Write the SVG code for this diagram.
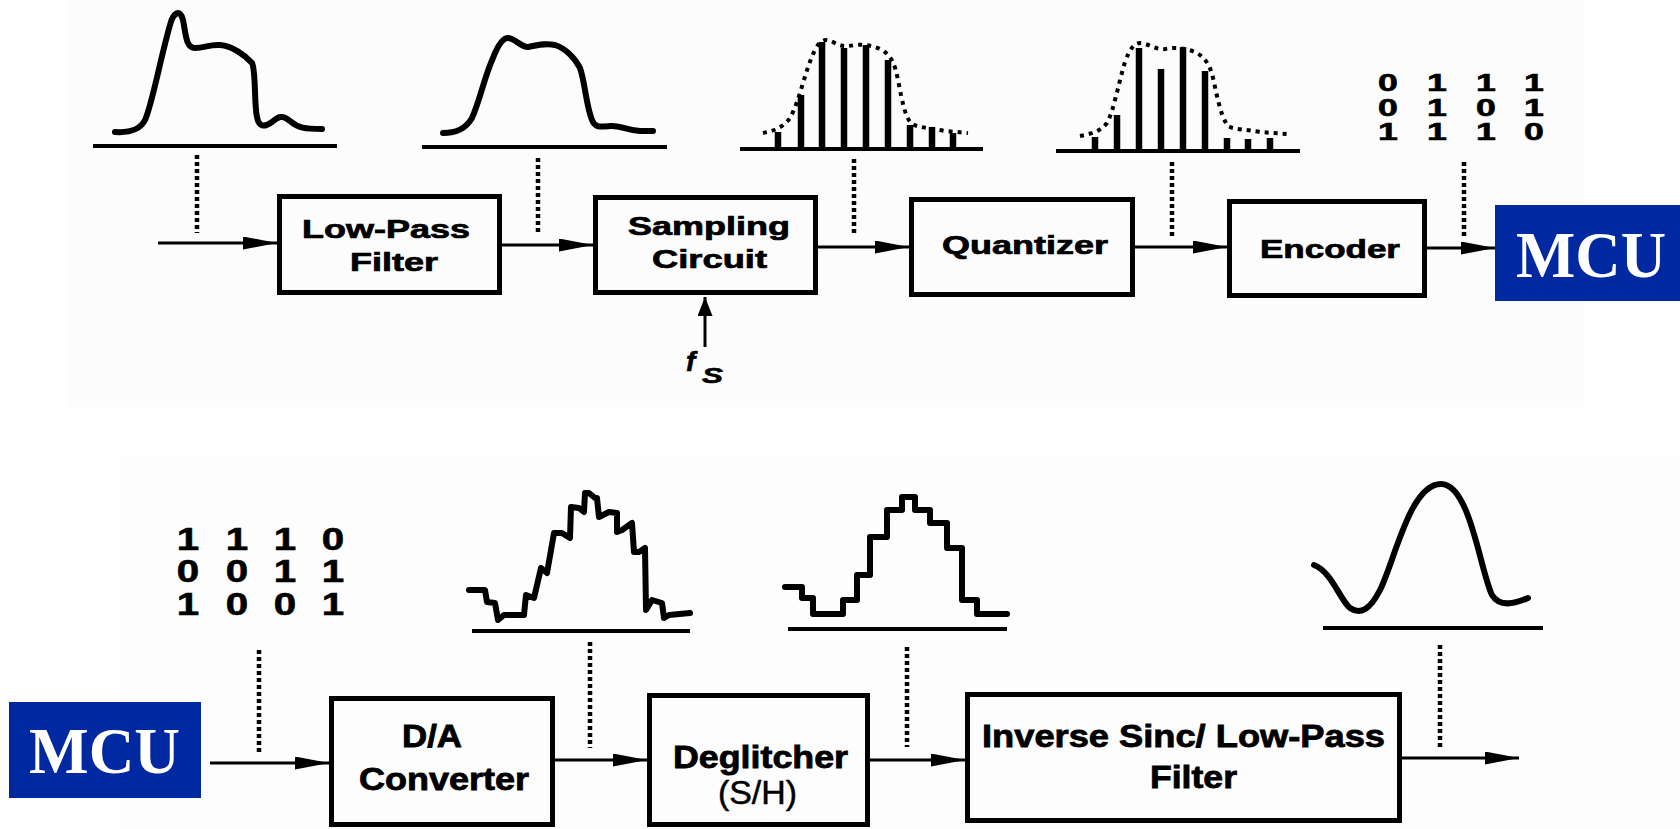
<svg xmlns="http://www.w3.org/2000/svg" width="1680" height="829" viewBox="0 0 1680 829">
<style>
.box{fill:none;stroke:#000;stroke-width:5}
.mcu{fill:#0028a0}
.mcut{font-family:"Liberation Serif","Times New Roman",serif;font-weight:bold;font-size:66px;fill:#fff}
.lt{font-family:"Liberation Sans",Arial,sans-serif;font-weight:bold;font-size:25px;fill:#000;stroke:#000;stroke-width:0.7}
.lb{font-family:"Liberation Sans",Arial,sans-serif;font-weight:bold;font-size:31px;fill:#000;stroke:#000;stroke-width:0.8}
.dig{font-family:"Liberation Sans",Arial,sans-serif;font-weight:bold;fill:#000;stroke:#000;stroke-width:0.6;text-anchor:middle}
.con{fill:none;stroke:#000;stroke-width:3}
.dot{fill:none;stroke:#000;stroke-width:4.5;stroke-dasharray:4 3}
.base{fill:none;stroke:#000;stroke-width:4}
.wave{fill:none;stroke:#000;stroke-width:6;stroke-linejoin:round;stroke-linecap:round}
.env{fill:none;stroke:#000;stroke-width:4;stroke-dasharray:4 5}
.bar{stroke:#000;stroke-width:6.5}
</style>
<defs>
<marker id="ah" viewBox="0 0 34 13" refX="34" refY="6.5" markerWidth="34" markerHeight="13" markerUnits="userSpaceOnUse" orient="auto"><path d="M0,0 L34,6.5 L0,13 Z" fill="#000"/></marker>
<marker id="ahv" viewBox="0 0 19 15" refX="19" refY="7.5" markerWidth="19" markerHeight="15" markerUnits="userSpaceOnUse" orient="auto"><path d="M0,0 L19,7.5 L0,15 Z" fill="#000"/></marker>
</defs>
<rect x="0" y="0" width="1680" height="829" fill="#fff"/>
<rect x="68" y="0" width="1516" height="407" fill="#fcfcfc"/>
<rect x="120" y="455" width="1560" height="374" fill="#fdfdfd"/>

<!-- waveforms -->
<g id="wave1">
<line class="base" x1="93" y1="146" x2="337" y2="146"/>
<path class="wave" d="M115,132 C130,133 140,130 145,120 C152,105 160,60 170,25 C173,13 180,8 183,20 C186,35 186,48 195,48 C205,48 210,44 220,45 C232,46 245,55 252,63 C256,70 254,105 257,117 C259,128 265,127 272,122 C278,117 282,114 290,121 C298,128 305,129 322,129"/>
</g>
<g id="wave2">
<line class="base" x1="422" y1="147" x2="667" y2="147"/>
<path class="wave" d="M443,133 C455,133 465,130 472,118 C480,100 485,75 493,58 C498,45 503,38 508,38 C515,38 520,47 528,47 C538,45 545,43 555,45 C565,48 575,58 580,68 C585,82 586,105 592,120 C595,128 600,127 610,126 C620,125 625,130 640,131 L653,131"/>
</g>
<g id="wave3">
<line class="base" x1="740" y1="149" x2="983" y2="149"/>
<path class="env" d="M763,133 C772,131 782,129 790,118 C800,100 805,70 815,50 C820,40 825,38 833,42 C840,46 845,47 855,45 C865,44 875,46 882,50 C892,56 895,65 898,80 C902,100 905,118 912,124 C920,128 930,128 945,131 L968,133"/>
<line class="bar" x1="778" y1="149" x2="778" y2="132"/>
<line class="bar" x1="801" y1="149" x2="801" y2="95"/>
<line class="bar" x1="822" y1="149" x2="822" y2="42"/>
<line class="bar" x1="844" y1="149" x2="844" y2="48"/>
<line class="bar" x1="866" y1="149" x2="866" y2="45"/>
<line class="bar" x1="888" y1="149" x2="888" y2="60"/>
<line class="bar" x1="910" y1="149" x2="910" y2="125"/>
<line class="bar" x1="932" y1="149" x2="932" y2="127"/>
<line class="bar" x1="953" y1="149" x2="953" y2="133"/>
</g>
<g id="wave4">
<line class="base" x1="1056" y1="151" x2="1300" y2="151"/>
<path class="env" d="M1080,136 C1090,134 1100,132 1107,123 C1114,110 1118,85 1125,62 C1130,48 1135,42 1142,43 C1150,45 1157,50 1165,49 C1175,47 1185,48 1195,52 C1205,57 1210,65 1213,78 C1217,95 1220,115 1228,126 C1235,130 1245,129 1260,132 L1287,134"/>
<line class="bar" x1="1095" y1="151" x2="1095" y2="137"/>
<line class="bar" x1="1117" y1="151" x2="1117" y2="115"/>
<line class="bar" x1="1139" y1="151" x2="1139" y2="48"/>
<line class="bar" x1="1161" y1="151" x2="1161" y2="69"/>
<line class="bar" x1="1183" y1="151" x2="1183" y2="47"/>
<line class="bar" x1="1205" y1="151" x2="1205" y2="71"/>
<line class="bar" x1="1227" y1="151" x2="1227" y2="138"/>
<line class="bar" x1="1248" y1="151" x2="1248" y2="139"/>
<line class="bar" x1="1270" y1="151" x2="1270" y2="138"/>
</g>
<g id="bits-top">
<text class="dig" font-size="23" transform="scale(1.55 1)"><tspan x="895.5 927.1 958.7 989.7" y="91">0111</tspan><tspan x="895.5 927.1 958.7 989.7" y="116">0101</tspan><tspan x="895.5 927.1 958.7 989.7" y="140">1110</tspan></text>
</g>
<g id="bits-bottom">
<text class="dig" font-size="31" transform="scale(1.3 1)"><tspan x="144.6 182.3 219.2 256.2" y="550">1110</tspan><tspan x="144.6 182.3 219.2 256.2" y="582">0011</tspan><tspan x="144.6 182.3 219.2 256.2" y="615">1001</tspan></text>
</g>
<g id="wave5">
<line class="base" x1="472" y1="631" x2="690" y2="631"/>
<path class="wave" d="M469,590 L485,590 L487,602 L495,603 L498,620 L504,615 L524,615 L526,595 L534,598 L541,568 L547,573 L554,533 L562,533 L570,538 L571,507 L579,508 L584,512 L585,493 L589,493 L595,498 L597,498 L599,517 L609,512 L617,513 L617,532 L622,530 L632,523 L634,552 L639,552 L645,548 L646,610 L652,600 L662,603 L664,618 L669,615 L690,613"/>
</g>
<g id="wave6">
<line class="base" x1="788" y1="629" x2="1007" y2="629"/>
<path class="wave" stroke-linejoin="miter" d="M785,587 L802,587 L802,598 L813,598 L813,614 L843,614 L843,600 L857,600 L857,575 L870,575 L870,537 L887,537 L887,510 L902,510 L902,497 L915,497 L915,510 L930,510 L930,523 L947,523 L947,548 L962,548 L962,600 L977,600 L977,614 L1007,614"/>
</g>
<g id="wave7">
<line class="base" x1="1323" y1="628" x2="1543" y2="628"/>
<path class="wave" d="M1314,565 C1332,572 1340,600 1350,608 C1360,615 1370,610 1380,590 C1395,560 1410,484 1441,484 C1470,484 1480,570 1492,595 C1498,605 1510,606 1528,598"/>
</g>

<!-- connectors -->
<g id="connectors">
<line class="con" x1="158" y1="243" x2="277" y2="243" marker-end="url(#ah)"/>
<line class="con" x1="502" y1="245" x2="593" y2="245" marker-end="url(#ah)"/>
<line class="con" x1="818" y1="247" x2="909" y2="247" marker-end="url(#ah)"/>
<line class="con" x1="1135" y1="247" x2="1227" y2="247" marker-end="url(#ah)"/>
<line class="con" x1="1427" y1="248" x2="1495" y2="248" marker-end="url(#ah)"/>
<line class="con" x1="705" y1="347" x2="705" y2="297" stroke-width="3.5" marker-end="url(#ahv)"/>
<line class="con" x1="210" y1="763" x2="329" y2="763" marker-end="url(#ah)"/>
<line class="con" x1="555" y1="760" x2="647" y2="760" marker-end="url(#ah)"/>
<line class="con" x1="870" y1="760" x2="965" y2="760" marker-end="url(#ah)"/>
<line class="con" x1="1402" y1="758" x2="1519" y2="758" marker-end="url(#ah)"/>
<line class="dot" x1="197" y1="155" x2="197" y2="233"/>
<line class="dot" x1="538" y1="158" x2="538" y2="233"/>
<line class="dot" x1="854" y1="159" x2="854" y2="235"/>
<line class="dot" x1="1172" y1="162" x2="1172" y2="237"/>
<line class="dot" x1="1464" y1="162" x2="1464" y2="237"/>
<line class="dot" x1="259" y1="650" x2="259" y2="752"/>
<line class="dot" x1="590" y1="642" x2="590" y2="748"/>
<line class="dot" x1="907" y1="647" x2="907" y2="747"/>
<line class="dot" x1="1440" y1="645" x2="1440" y2="747"/>
</g>
<g id="fs-label">
<text x="686" y="371" font-family="'Liberation Sans',Arial,sans-serif" font-weight="bold" font-style="italic" font-size="28" stroke="#000" stroke-width="0.6">f</text>
<text x="702" y="383" font-family="'Liberation Sans',Arial,sans-serif" font-weight="bold" font-style="italic" font-size="22" stroke="#000" stroke-width="0.6" textLength="21" lengthAdjust="spacingAndGlyphs">S</text>
</g>

<!-- nodes -->
<g id="lpf">
<rect class="box" x="279.5" y="196.5" width="220" height="96"/>
<text class="lt" x="302" y="238" textLength="168" lengthAdjust="spacingAndGlyphs">Low-Pass</text>
<text class="lt" x="350" y="271" textLength="88" lengthAdjust="spacingAndGlyphs">Filter</text>
</g>
<g id="sampling">
<rect class="box" x="595.5" y="197.5" width="220" height="95"/>
<text class="lt" x="628" y="235" textLength="162" lengthAdjust="spacingAndGlyphs">Sampling</text>
<text class="lt" x="652" y="268" textLength="115" lengthAdjust="spacingAndGlyphs">Circuit</text>
</g>
<g id="quantizer">
<rect class="box" x="911.5" y="199.5" width="221" height="95"/>
<text class="lt" x="942" y="254" textLength="166" lengthAdjust="spacingAndGlyphs">Quantizer</text>
</g>
<g id="encoder">
<rect class="box" x="1229.5" y="201.5" width="195" height="94"/>
<text class="lt" x="1260" y="258" textLength="140" lengthAdjust="spacingAndGlyphs">Encoder</text>
</g>
<g id="mcu-top">
<rect class="mcu" x="1495" y="205" width="185" height="96"/>
<text class="mcut" x="1516" y="277" textLength="150" lengthAdjust="spacingAndGlyphs">MCU</text>
</g>
<g id="mcu-bottom">
<rect class="mcu" x="9" y="702" width="192" height="96"/>
<text class="mcut" x="29" y="773" textLength="151" lengthAdjust="spacingAndGlyphs">MCU</text>
</g>
<g id="dac">
<rect class="box" x="331.5" y="698.5" width="221" height="126"/>
<text class="lb" x="402" y="747" textLength="60" lengthAdjust="spacingAndGlyphs">D/A</text>
<text class="lb" x="359" y="790" textLength="170" lengthAdjust="spacingAndGlyphs">Converter</text>
</g>
<g id="deglitcher">
<rect class="box" x="649.5" y="695.5" width="218" height="129"/>
<text class="lb" font-size="29" x="673" y="768" textLength="175" lengthAdjust="spacingAndGlyphs">Deglitcher</text>
<text x="718" y="804" font-family="'Liberation Sans',Arial,sans-serif" font-size="33" fill="#000" stroke="#000" stroke-width="0.5" textLength="79" lengthAdjust="spacingAndGlyphs">(S/H)</text>
</g>
<g id="invsinc">
<rect class="box" x="967.5" y="694.5" width="432" height="126"/>
<text class="lb" x="982" y="747" textLength="403" lengthAdjust="spacingAndGlyphs">Inverse Sinc/ Low-Pass</text>
<text class="lb" x="1150" y="788" textLength="87" lengthAdjust="spacingAndGlyphs">Filter</text>
</g>
</svg>
